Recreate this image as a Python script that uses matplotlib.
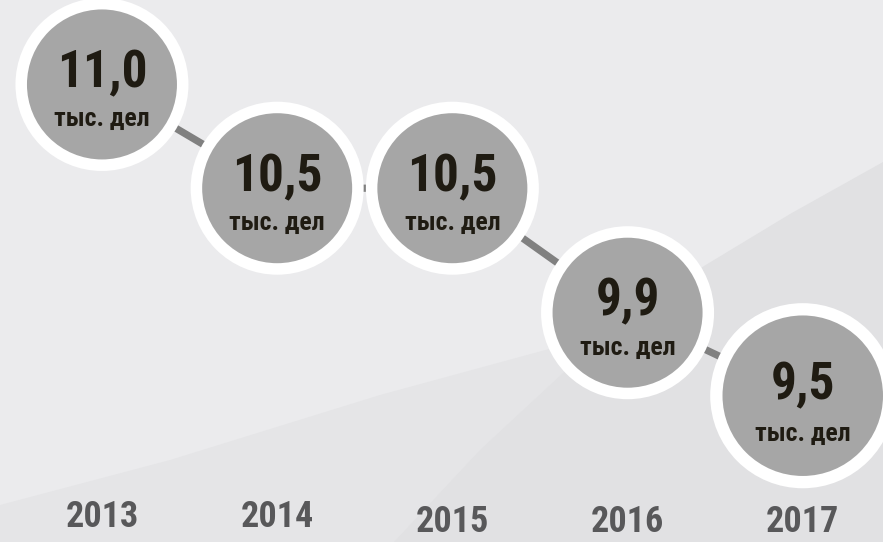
import matplotlib
matplotlib.use("Agg")
import matplotlib.pyplot as plt
from matplotlib import font_manager as fm
from matplotlib.patches import Polygon
import numpy as np

# ---- data ----
years = ["2013", "2014", "2015", "2016", "2017"]
values = [11.0, 10.5, 10.5, 9.9, 9.5]
value_labels = ["11,0", "10,5", "10,5", "9,9", "9,5"]
unit_label = "тыс. дел"

# ---- style ----
W, H, DPI = 883, 542, 100
bg = "#ebebed"
ring_scale = [1.0, 1.0, 1.0, 1.0, 1.07]   # last bubble drawn a bit larger
year_drop = [0, 0, 5, 5, 5]               # px: year label baseline shifts

# pick a narrow bold family (Arial Narrow look-alike)
bold_names = {f.name for f in fm.fontManager.ttflist
              if (f.weight if isinstance(f.weight, int) else 400) >= 700
              or f.weight in ("bold", "heavy", "black")}
candidates = ["Liberation Sans Narrow", "Arimo Narrow", "Roboto Condensed",
              "Open Sans Condensed", "Barlow Semi Condensed", "Asap Condensed",
              "Barlow Condensed"]
narrow = next((c for c in candidates if c in bold_names), "DejaVu Sans")
FONT = [narrow, "DejaVu Sans"]
plt.rcParams["font.family"] = FONT

fig = plt.figure(figsize=(W / DPI, H / DPI), dpi=DPI, facecolor=bg)
ax = fig.add_axes([0, 0, 1, 1])
ax.set_facecolor("none")
ax.set_xlim(-0.582, 4.458)
ax.set_ylim(8.795, 11.407)
ax.axis("off")

# decorative background swooshes (figure-pixel layout)
def fpx(pts):
    return [(x / W, 1 - y / H) for x, y in pts]

ax.add_patch(Polygon(fpx([(0, 505), (170, 460), (380, 395), (549, 349),
                          (700, 318), (883, 297), (883, 542), (0, 542)]),
                     closed=True, transform=fig.transFigure,
                     facecolor="#e5e5e7", edgecolor="none", zorder=0))
ax.add_patch(Polygon(fpx([(394, 542), (480, 450), (563, 373), (640, 310),
                          (704, 266), (790, 214), (883, 162), (883, 542)]),
                     closed=True, transform=fig.transFigure,
                     facecolor="#e1e1e3", edgecolor="none", zorder=0))

x = np.arange(len(values))

# connecting line
ax.plot(x, values, color="#808080", lw=5.2, solid_capstyle="butt", zorder=1)

# bubbles: white ring + grey disc
px2pt = 72.0 / DPI
outer_d = 173 * px2pt
inner_d = 150 * px2pt
sc = np.array(ring_scale)
ax.scatter(x, values, s=(outer_d * sc) ** 2, color="white", edgecolors="none", zorder=2)
ax.scatter(x, values, s=(inner_d * sc) ** 2, color="#a6a6a6", edgecolors="none", zorder=3)

txt_color = "#1f1b12"
for xi, v, lab, k in zip(x, values, value_labels, ring_scale):
    ax.annotate(lab, (xi, v), xytext=(0, -3 * px2pt * k), textcoords="offset points",
                ha="center", va="baseline", fontsize=37, fontweight="bold",
                color=txt_color, zorder=4)
    ax.annotate(unit_label, (xi, v), xytext=(0, -42 * px2pt * k), textcoords="offset points",
                ha="center", va="baseline", fontsize=18.5, fontweight="bold",
                color=txt_color, zorder=4)

# year labels
trans = ax.get_xaxis_transform()
for xi, yr, d in zip(x, years, year_drop):
    ax.annotate(yr, (xi, 0), xycoords=trans, xytext=(0, (15 - d) * px2pt),
                textcoords="offset points", ha="center", va="baseline",
                fontsize=26, fontweight="bold", color="#58585a", zorder=4)

fig.savefig("out.png", dpi=DPI, facecolor=bg)
